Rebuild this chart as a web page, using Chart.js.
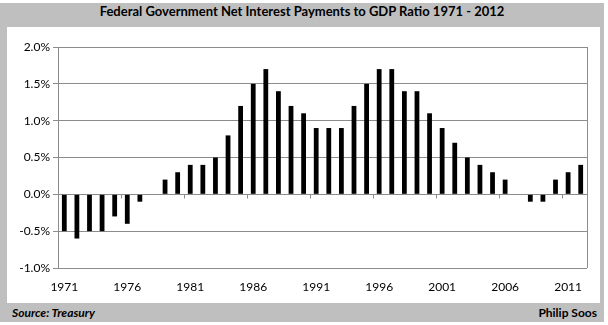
<!DOCTYPE html>
<html>
<head>
<meta charset="utf-8">
<script src="https://cdn.jsdelivr.net/npm/chart.js@4.4.0/dist/chart.umd.min.js"></script>
<style>
  html, body { margin: 0; padding: 0; background: #fff; }
  #frame { position: absolute; left: 0; top: 3px; width: 604px; height: 319px; background: #bfbfbf; }
  #title { position: absolute; left: 0; top: 3px; width: 604px; height: 24px; line-height: 24px;
    text-align: center; font: bold 13px Lato, sans-serif; color: #000; }
  #panel { position: absolute; left: 7px; top: 27px; width: 593px; height: 276px; background: #fff; }
  #source { position: absolute; left: 12px; top: 305px; font: italic bold 12px Lato, sans-serif; }
  #author { position: absolute; right: 11px; top: 305px; font: bold 12px Lato, sans-serif; }
</style>
</head>
<body>
<div id="frame"></div>
<div id="title">Federal Government Net Interest Payments to GDP Ratio 1971 - 2012</div>
<div id="panel"><canvas id="chart" width="593" height="276"></canvas></div>
<div id="source">Source: Treasury</div>
<div id="author">Philip Soos</div>
<script>
const years = [];
for (let y = 1971; y <= 2012; y++) years.push(String(y));

const interestToGdp = [
  -0.5, -0.6, -0.5, -0.5, -0.3, -0.4, -0.1, 0.0, 0.2, 0.3,
  0.4, 0.4, 0.5, 0.8, 1.2, 1.5, 1.7, 1.4, 1.2, 1.1,
  0.9, 0.9, 0.9, 1.2, 1.5, 1.7, 1.7, 1.4, 1.4, 1.1,
  0.9, 0.7, 0.5, 0.4, 0.3, 0.2, 0.0, -0.1, -0.1, 0.2,
  0.3, 0.4
];

const yMin = -1.0;
const yMax = 2.0;
const yStep = 0.5;
const gridColor = "#8c8c8c";

// right border + small ticks on the zero line every 5 years
const framePlugin = {
  id: "frame",
  afterDraw(chart) {
    const { ctx, chartArea, scales } = chart;
    const x = scales.x;
    const y = scales.y;
    ctx.save();
    ctx.strokeStyle = gridColor;
    ctx.lineWidth = 1;
    ctx.beginPath();
    ctx.moveTo(Math.round(chartArea.right) + 0.5, chartArea.top);
    ctx.lineTo(Math.round(chartArea.right) + 0.5, chartArea.bottom);
    const y0 = Math.round(y.getPixelForValue(0)) + 0.5;
    for (let i = 5; i < years.length; i += 5) {
      const px = Math.round((x.getPixelForValue(i - 1) + x.getPixelForValue(i)) / 2) + 0.5;
      ctx.moveTo(px, y0);
      ctx.lineTo(px, y0 + 4);
    }
    ctx.stroke();
    ctx.restore();
  }
};

new Chart(document.getElementById("chart"), {
  type: "bar",
  data: {
    labels: years,
    datasets: [{
      data: interestToGdp,
      backgroundColor: "#000",
      borderWidth: 0,
      barPercentage: 0.38,
      categoryPercentage: 1
    }]
  },
  options: {
    responsive: false,
    animation: false,
    layout: { padding: { top: 20, right: 13, left: 0, bottom: 0 } },
    plugins: { legend: { display: false }, tooltip: { enabled: false } },
    scales: {
      x: {
        grid: { display: false },
        border: { display: false },
        ticks: {
          autoSkip: false,
          maxRotation: 0,
          color: "#000",
          font: { family: "Lato", size: 12 },
          padding: 4,
          callback: (v, i) => (i % 5 === 0 ? years[i] : "")
        },
        afterFit: (scale) => { scale.height = 35; }
      },
      y: {
        min: yMin,
        max: yMax,
        ticks: {
          stepSize: yStep,
          color: "#000",
          font: { family: "Lato", size: 12 },
          padding: 3,
          callback: (v) => v.toFixed(1) + "%"
        },
        grid: { color: gridColor, tickLength: 5 },
        border: { color: gridColor },
        afterFit: (scale) => { scale.width = 51; }
      }
    }
  },
  plugins: [framePlugin]
});
</script>
</body>
</html>
